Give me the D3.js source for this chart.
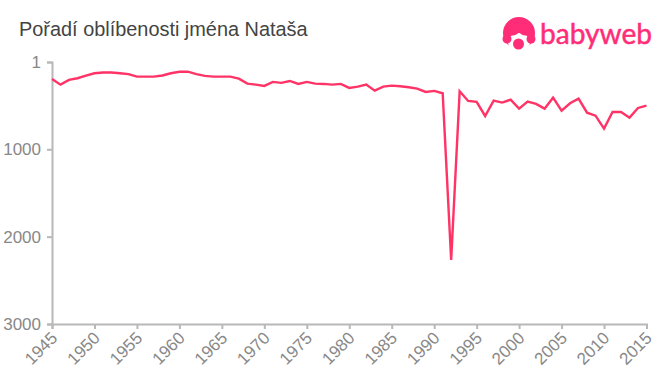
<!DOCTYPE html>
<html><head><meta charset="utf-8">
<script src="https://cdn.jsdelivr.net/npm/d3@7"></script>
<style>html,body{margin:0;padding:0;background:#fff}svg{display:block}</style></head>
<body><svg id="c" width="660" height="375"></svg>
<script>
const titleText = "Pořadí oblíbenosti jména Nataša";
const brandText = "babyweb";
const years = d3.range(1945, 2016);
const ranks = [195,260,206,187,157,130,122,122,130,140,168,168,168,155,130,112,112,140,160,168,168,168,191,248,260,275,229,240,218,252,229,248,252,260,252,298,283,260,329,283,271,279,290,306,344,332,359,2268,336,447,458,619,443,466,432,535,455,481,535,409,558,473,420,581,615,764,573,573,638,527,500];
const yTicks = [1,1000,2000,3000];
const xTicks = d3.range(1945, 2016, 5);
const svg = d3.select("#c");
const x = d3.scaleLinear().domain([1945,2015]).range([52,646.5]);
const y = d3.scaleLinear().domain([1,3000]).range([62,324]);
const axisColor = "#b8b8b8", labelColor = "#888";

svg.append("text").attr("x",19).attr("y",36).attr("font-family","Liberation Sans, Arial, sans-serif")
  .attr("font-size",19.9).attr("fill","#444").text(titleText);

const yG = svg.append("g").attr("transform","translate(52,0)").call(d3.axisLeft(y).tickValues(yTicks).tickFormat(d3.format("d")).tickSize(5).tickPadding(6));
const xG = svg.append("g").attr("transform","translate(0,324)").call(d3.axisBottom(x).tickValues(xTicks).tickFormat(d3.format("d")).tickSize(5).tickPadding(4));
[yG,xG].forEach(g=>{
  g.selectAll("path.domain").attr("stroke",axisColor).attr("stroke-width",2);
  g.selectAll(".tick line").attr("stroke",axisColor).attr("stroke-width",2);
  g.selectAll("text").attr("fill",labelColor).attr("font-family","Liberation Sans, Arial, sans-serif").attr("font-size",17);
});
xG.selectAll("text").attr("text-anchor","end").attr("dy",0).attr("dx",0)
  .attr("transform",function(){return "translate(6,15) rotate(-45)";}).attr("y",0).attr("x",0);

svg.append("path").datum(ranks).attr("fill","none").attr("stroke","#ff3366").attr("stroke-width",2.4)
  .attr("stroke-linejoin","miter")
  .attr("d",d3.line().x((d,i)=>x(years[i])).y(d=>y(d)));

// logo
const logo = svg.append("g").attr("fill","#ff2d78");
logo.append("circle").attr("cx",519).attr("cy",33).attr("r",16);
logo.append("ellipse").attr("cx",519).attr("cy",42).attr("rx",11).attr("ry",9).attr("fill","#fff");
logo.append("circle").attr("cx",507).attr("cy",39).attr("r",4.5);
logo.append("circle").attr("cx",531).attr("cy",39).attr("r",4.5);
logo.append("path").attr("d","M510 35 Q515 37 519 32 Q523 37 528 35 L528 27 L510 27 Z");
logo.append("circle").attr("cx",518.5).attr("cy",44).attr("r",5.5);
logo.append("text").attr("x",540).attr("y",44).attr("font-family","Lato, sans-serif").attr("font-size",29)
  .attr("stroke","#ff2d78").attr("stroke-width",0.5)
  .attr("textLength",112).attr("lengthAdjust","spacingAndGlyphs").text(brandText);
</script></body></html>
